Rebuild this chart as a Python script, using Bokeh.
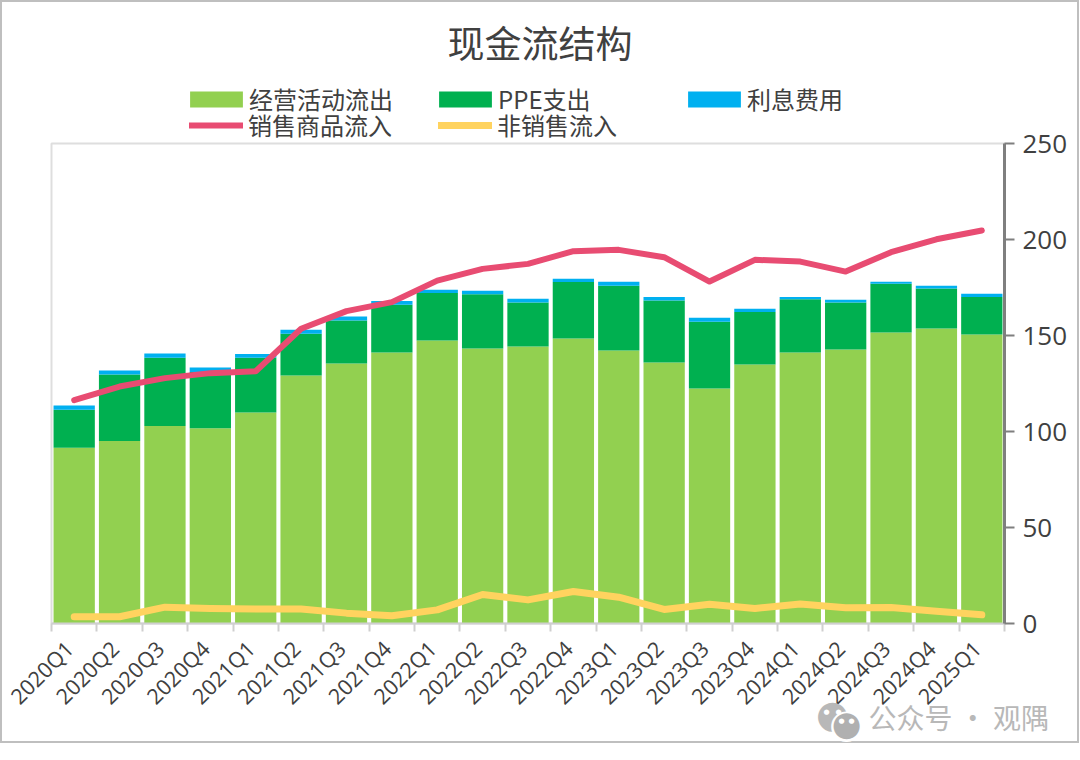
import math
from bokeh.embed import file_html
from bokeh.resources import INLINE
from bokeh.plotting import figure
from bokeh.models import (BoxAnnotation, ColumnDataSource, FixedTicker, Label, Legend, LegendItem, Range1d)

quarters = ["2020Q1","2020Q2","2020Q3","2020Q4","2021Q1","2021Q2","2021Q3","2021Q4",
            "2022Q1","2022Q2","2022Q3","2022Q4","2023Q1","2023Q2","2023Q3","2023Q4",
            "2024Q1","2024Q2","2024Q3","2024Q4","2025Q1"]
operating_out = [91.5,95.0,102.8,101.7,109.9,129.2,135.4,141.1,147.4,143.2,144.3,148.4,
                 142.2,135.9,122.4,134.9,141.1,142.7,151.6,153.6,150.5]
ppe_out = [19.8,34.7,35.6,29.3,28.5,21.7,22.4,24.9,24.8,28.3,22.9,29.4,
           33.7,32.3,34.7,27.3,27.8,24.5,25.3,20.9,19.6]
interest = [2.2,2.1,2.2,2.3,2.0,2.1,2.1,2.0,1.6,1.8,1.9,1.7,
            2.1,1.9,2.1,1.7,1.2,1.4,1.1,1.4,1.6]
sales_in = [116.3,123.4,127.8,130.4,131.4,153.5,162.7,167.4,178.6,184.7,187.3,193.9,
            194.6,190.8,178.1,189.4,188.5,183.3,193.4,200.1,204.7]
other_in = [3.5,3.5,8.5,7.8,7.5,7.5,5.4,4.0,7.1,15.1,12.3,16.7,
            13.7,7.3,10.0,7.8,10.2,8.2,8.3,6.4,4.5]
y_ticks = [0,50,100,150,200,250]

CJK = "Noto Sans CJK SC"
TEXT = "#404040"

# page geometry: the frame fills the figure under the title, the plot box sits inside it
W, H, TOP = 1079, 743, 70
BOX_L, BOX_R, BOX_T, BOX_B = 51, 1004, 143, 623
n = len(quarters)
band = (BOX_R - BOX_L) / n
unit = (BOX_B - BOX_T) / 250
x_range = Range1d(-0.5 - BOX_L / band, -0.5 + (W - BOX_L) / band)
y_range = Range1d((BOX_B - H) / unit, (BOX_B - TOP) / unit)

x = list(range(n))
source = ColumnDataSource(dict(x=x, operating=operating_out, ppe=ppe_out, interest=interest,
                               sales=sales_in, other=other_in))

p = figure(width=W, height=H, output_backend="svg", toolbar_location=None,
           x_range=x_range, y_range=y_range, y_axis_location="right",
           min_border_left=0, min_border_right=0, min_border_top=TOP, min_border_bottom=0,
           border_fill_color=None, background_fill_color=None,
           styles={"outline": "2px solid #bfbfbf", "outline-offset": "-2px"})

p.title.text = "现金流结构"
p.title.align = "center"
p.title.standoff = 4
p.title.text_font = CJK
p.title.text_font_size = "37px"
p.title.text_font_style = "normal"
p.title.text_color = TEXT

p.grid.visible = False
p.outline_line_color = None

p.add_layout(BoxAnnotation(left=-0.5, right=n-0.5, bottom=0, top=250, fill_alpha=0,
                           line_color="#dedede", line_alpha=1, line_width=2, level="underlay"))

bars = p.vbar_stack(["operating", "ppe", "interest"], x="x", width=0.91, source=source,
                    color=["#92D050", "#00B050", "#00B0F0"], line_width=0)
red = p.line("x", "sales", source=source, line_color="#E84C72", line_width=6,
             line_cap="round", line_join="round")
yellow = p.line("x", "other", source=source, line_color="#FFD35F", line_width=7,
                line_cap="round", line_join="round")

# labels sit slightly left of each band centre, ticks mark the band edges
label_ticks = [i - 0.11 for i in x]
xa = p.xaxis[0]
xa.fixed_location = 0
xa.bounds = (-0.5, n-0.5)
xa.ticker = FixedTicker(ticks=label_ticks, minor_ticks=[i-0.5 for i in range(n+1)])
xa.major_label_overrides = dict(zip(label_ticks, quarters))
xa.major_label_orientation = math.pi/4
xa.major_label_text_font = "Open Sans"
xa.major_label_text_font_size = "21.5px"
xa.major_label_text_color = TEXT
xa.major_label_standoff = 13
xa.major_tick_line_color = None
xa.major_tick_out = 0
xa.major_tick_in = 0
xa.minor_tick_line_color = "#cfcfcf"
xa.minor_tick_line_width = 2
xa.minor_tick_out = 8
xa.minor_tick_in = 0
xa.axis_line_color = "#cfcfcf"
xa.axis_line_width = 2

ya = p.yaxis[0]
ya.fixed_location = n-0.5
ya.bounds = (0, 250)
ya.ticker = FixedTicker(ticks=y_ticks)
ya.major_label_text_font = "Open Sans"
ya.major_label_text_font_size = "26px"
ya.major_label_text_color = TEXT
ya.major_label_standoff = 8
ya.major_tick_line_color = "#7f7f7f"
ya.major_tick_line_width = 2
ya.major_tick_out = 10
ya.major_tick_in = 0
ya.minor_tick_line_color = None
ya.axis_line_color = "#7f7f7f"
ya.axis_line_width = 3

rows = [
    ([("经营活动流出", bars[0]), ("PPE支出", bars[1]), ("利息费用", bars[2])],
     dict(location=(183, H-116), glyph_width=66, glyph_height=20, label_standoff=0, label_width=183)),
    ([("销售商品流入", red), ("非销售流入", yellow)],
     dict(location=(189, H-142), glyph_width=54, glyph_height=16, label_standoff=5, label_width=190)),
]
for entries, opts in rows:
    p.add_layout(Legend(items=[LegendItem(label=t, renderers=[r]) for t, r in entries],
                        orientation="horizontal", ncols=3, background_fill_alpha=0,
                        border_line_color=None, margin=0, padding=0, spacing=0, label_height=25,
                        label_text_font=CJK, label_text_font_size="24px", label_text_color=TEXT,
                        **opts), "center")

# watermark
def mark(text, px, py, size, color, font="DejaVu Sans", align="center"):
    p.add_layout(Label(x=px, y=H-py, x_units="screen", y_units="screen", text=text, text_font=font,
                       text_font_size=size, text_color=color, text_align=align, text_baseline="middle"))

mark("●", 832, 713, "38px", "#b8b8b8")
mark("●", 846, 722, "40px", "#ffffff")
mark("●", 846, 722, "34px", "#b0b0b0")
for ex, ey in [(826, 711), (838, 711), (841, 720), (851, 720)]:
    mark("●", ex, ey, "7px", "#ffffff")
mark("公众号 · 观隅", 868, 716, "28px", "#b8b8b8", font=CJK, align="left")

open("out.html", "w").write(file_html(p, INLINE))
